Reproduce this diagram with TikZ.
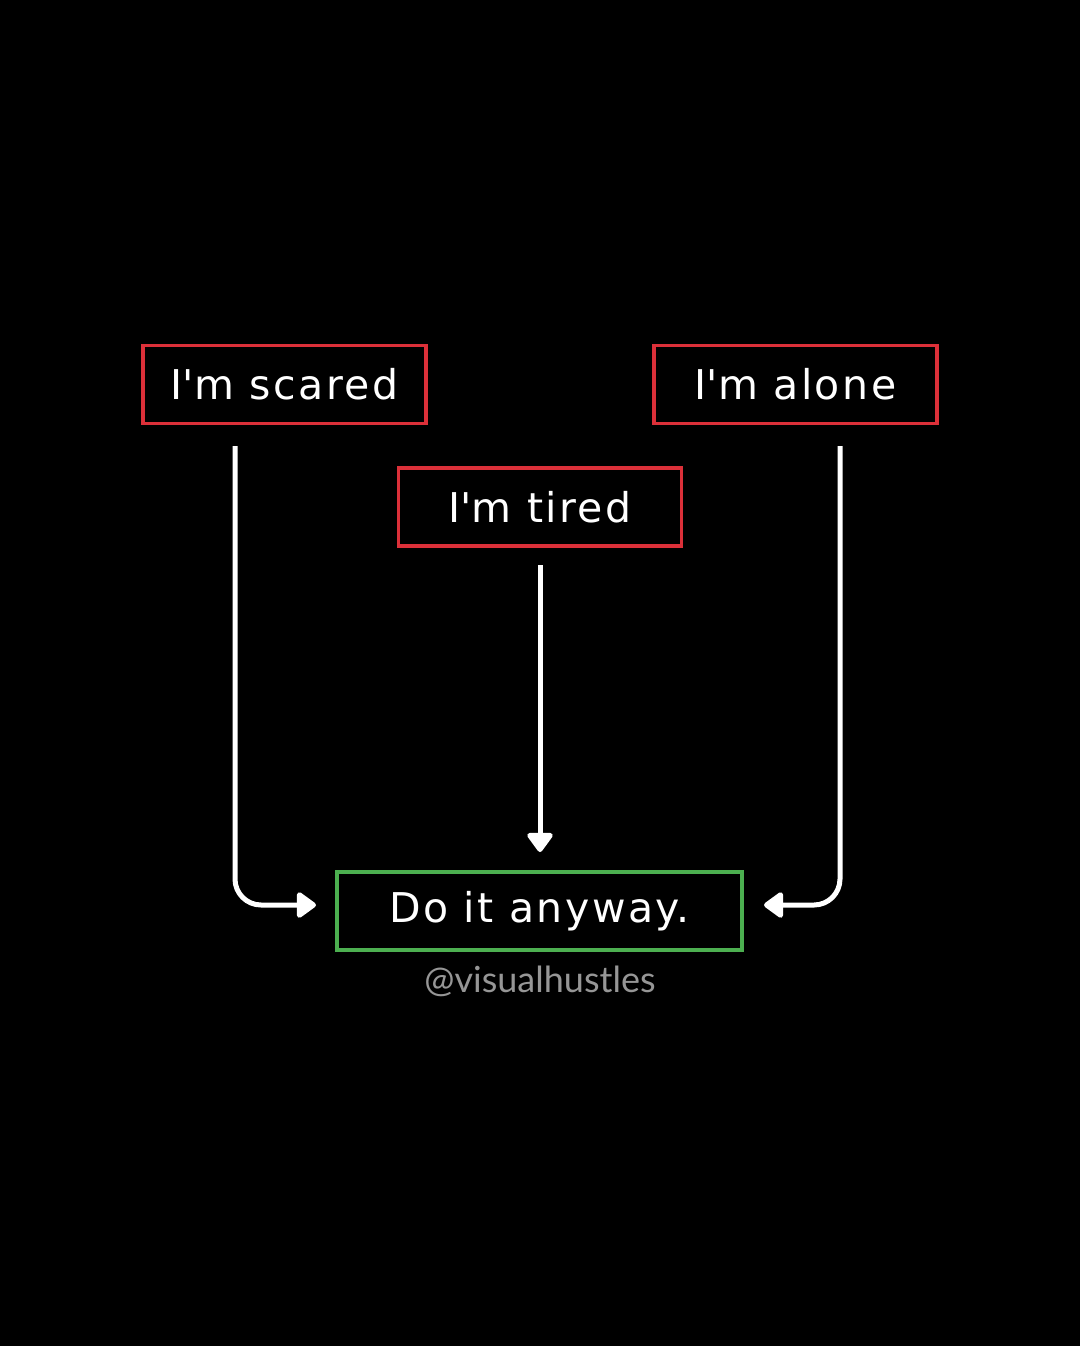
\documentclass[tikz,border=0pt]{standalone}
\usepackage{fontspec}
\setmainfont{DejaVu Sans}[LetterSpace=6]
\newfontfamily\tagfont{Lato}
\usetikzlibrary{arrows.meta}
\definecolor{boxred}{HTML}{DC3039}
\definecolor{boxgreen}{HTML}{4CAF50}
\definecolor{taggray}{HTML}{969696}
\tikzset{
  lbl/.style={draw, line width=3.5pt, minimum height=78pt, inner xsep=0pt, text=white, font=\fontsize{41}{41}\selectfont},
  redbox/.style={lbl, draw=boxred, minimum width=283pt},
  greenbox/.style={lbl, draw=boxgreen, minimum width=405pt},
  arr/.style={draw=white, line width=5pt, rounded corners=26pt, -{Triangle[round, length=21pt, width=29pt]}}
}
\begin{document}
\begin{tikzpicture}[x=1pt, y=-1pt]
\fill[black] (0,0) rectangle (1080,1346);
\useasboundingbox (0,0) rectangle (1080,1346);
\node[redbox] (scared) at (284.5,384.5) {I\textquotesingle m scared};
\node[redbox] (alone) at (795.5,384.5) {I\textquotesingle m alone};
\node[redbox] (tired) at (540,507) {I\textquotesingle m tired};
\node[greenbox] (do) at (539.5,911) {Do it anyway.};
\node[text=taggray, font=\tagfont\fontsize{36}{36}\selectfont] (tag) at (540,981) {@visualhustles};
\coordinate (sl) at (235,446);
\coordinate (sr) at (840,446);
\coordinate (el) at (316,905);
\coordinate (er) at (764,905);
\coordinate (ec) at (540,852);
\coordinate (sc) at (540,565);
\draw[arr] (sl) |- (el);
\draw[arr] (sr) |- (er);
\draw[arr] (sc) -- (ec);
\end{tikzpicture}
\end{document}
